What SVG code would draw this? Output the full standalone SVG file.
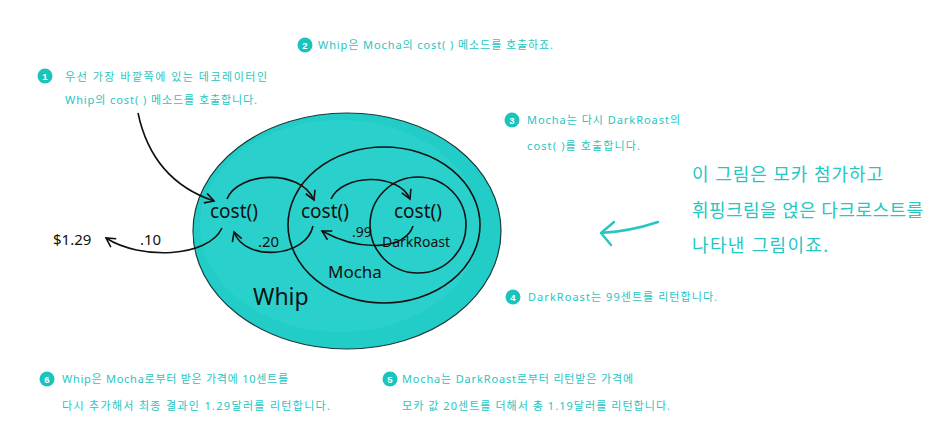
<svg xmlns="http://www.w3.org/2000/svg" width="951" height="427" viewBox="0 0 951 427">
<style>
.note{font-family:"Noto Sans","Noto Sans CJK KR",sans-serif;font-size:11px;fill:#26c6c2}
.big{font-family:"Noto Sans","Noto Sans CJK KR",sans-serif;font-size:18px;fill:#26c6c2}
.num{font-family:"Liberation Sans",sans-serif;font-size:9.5px;font-weight:bold;fill:#fff;text-anchor:middle}
.badge{fill:#1bc3bd}
.hand{font-family:"Noto Sans",sans-serif;fill:#111}
.cost{font-size:19px;text-anchor:middle}
.ring{fill:none;stroke:#111;stroke-width:1.6}
.conn{fill:none;stroke:#111;stroke-width:1.6;marker-end:url(#ah)}
</style>
<defs>
<marker id="ah" viewBox="0 0 12 12" refX="10" refY="6" markerWidth="12" markerHeight="12" markerUnits="userSpaceOnUse" orient="auto">
<path d="M1,1 L10,6 L1,11" fill="none" stroke="#111" stroke-width="1.6"/>
</marker>
</defs>
<rect width="951" height="427" fill="#fff"/>

<g id="whip">
<ellipse cx="347" cy="231" rx="154" ry="118" fill="#22cdc7" stroke="#1a3a3a" stroke-width="1.2"/>
<ellipse cx="340" cy="226" rx="140" ry="106" fill="#30d4ce" opacity="0.6"/>
<text class="hand cost" x="234" y="218">cost()</text>
<text class="hand" x="253" y="305" font-size="23">Whip</text>
</g>

<g id="mocha">
<ellipse cx="384" cy="225" rx="96" ry="78" class="ring"/>
<text class="hand cost" x="325" y="218">cost()</text>
<text class="hand" x="328" y="278" font-size="17">Mocha</text>
</g>

<g id="darkroast">
<circle cx="418" cy="225" r="48" class="ring"/>
<text class="hand cost" x="418" y="218">cost()</text>
<text class="hand" x="382" y="247" font-size="14">DarkRoast</text>
</g>

<g id="connectors">
<path class="conn" d="M138,113 C148,160 175,188 214,201"/>
<path class="conn" d="M227,199 C238,172 300,168 314,200"/>
<path class="conn" d="M331,199 C342,174 398,172 410,199"/>
<path class="conn" d="M413,226 C405,250 360,252 322,231"/>
<path class="conn" d="M313,226 C306,258 245,262 234,232"/>
<path class="conn" d="M222,228 C208,258 140,260 106,238"/>
<path d="M658,222 C640,228 620,232 601,233 M614,222 L601,233 L611,245" fill="none" stroke="#26c6c2" stroke-width="2.4" stroke-linecap="round" stroke-linejoin="round"/>
</g>

<g id="values">
<text class="hand" x="53" y="245" font-size="15">$1.29</text>
<text class="hand" x="140" y="245" font-size="15">.10</text>
<text class="hand" x="258" y="247" font-size="15">.20</text>
<text class="hand" x="352" y="237" font-size="14">.99</text>
</g>

<g id="note1">
<circle class="badge" cx="45" cy="76" r="7.5"/><text class="num" x="45" y="79.5">1</text>
<text class="note" x="65" y="81" textLength="202" lengthAdjust="spacing">우선 가장 바깥쪽에 있는 데코레이터인</text>
<text class="note" x="65" y="104" textLength="192" lengthAdjust="spacing">Whip의 cost( ) 메소드를 호출합니다.</text>
</g>
<g id="note2">
<circle class="badge" cx="305" cy="45" r="7.5"/><text class="num" x="305" y="48.5">2</text>
<text class="note" x="318" y="49" textLength="235" lengthAdjust="spacing">Whip은 Mocha의 cost( ) 메소드를 호출하죠.</text>
</g>
<g id="note3">
<circle class="badge" cx="512" cy="120" r="7.5"/><text class="num" x="512" y="123.5">3</text>
<text class="note" x="527" y="124" textLength="153" lengthAdjust="spacing">Mocha는 다시 DarkRoast의</text>
<text class="note" x="527" y="150" textLength="113" lengthAdjust="spacing">cost( )를 호출합니다.</text>
</g>
<g id="note4">
<circle class="badge" cx="513" cy="297" r="7.5"/><text class="num" x="513" y="300.5">4</text>
<text class="note" x="528" y="301" textLength="189" lengthAdjust="spacing">DarkRoast는 99센트를 리턴합니다.</text>
</g>
<g id="note5">
<circle class="badge" cx="390" cy="379" r="7.5"/><text class="num" x="390" y="382.5">5</text>
<text class="note" x="402" y="383" textLength="231" lengthAdjust="spacing">Mocha는 DarkRoast로부터 리턴받은 가격에</text>
<text class="note" x="402" y="410" textLength="268" lengthAdjust="spacing">모카 값 20센트를 더해서 총 1.19달러를 리턴합니다.</text>
</g>
<g id="note6">
<circle class="badge" cx="47" cy="379" r="7.5"/><text class="num" x="47" y="382.5">6</text>
<text class="note" x="62" y="383" textLength="226" lengthAdjust="spacing">Whip은 Mocha로부터 받은 가격에 10센트를</text>
<text class="note" x="62" y="410" textLength="268" lengthAdjust="spacing">다시 추가해서 최종 결과인 1.29달러를 리턴합니다.</text>
</g>
<g id="caption">
<text class="big" x="692" y="181" textLength="191" lengthAdjust="spacing">이 그림은 모카 첨가하고</text>
<text class="big" x="692" y="217" textLength="231" lengthAdjust="spacing">휘핑크림을 얹은 다크로스트를</text>
<text class="big" x="692" y="252" textLength="136" lengthAdjust="spacing">나타낸 그림이죠.</text>
</g>
</svg>
